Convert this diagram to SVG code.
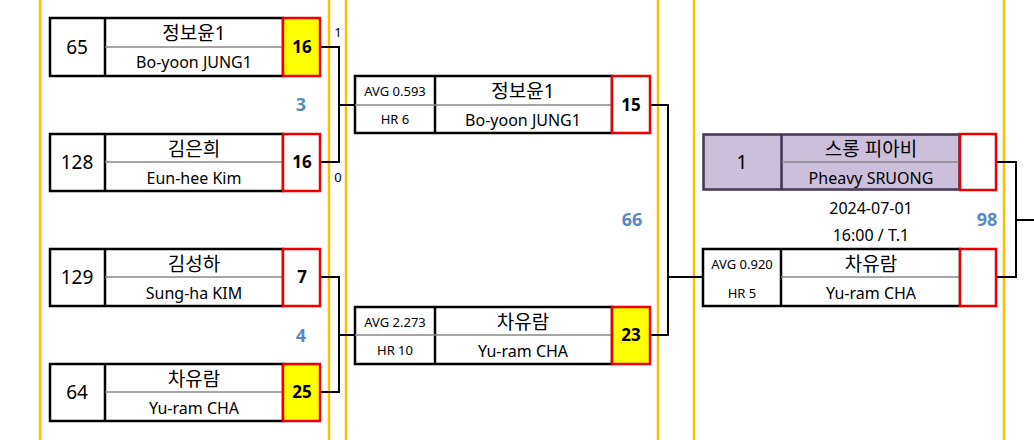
<svg xmlns="http://www.w3.org/2000/svg" width="1034" height="440" viewBox="0 0 1034 440">
<style>
text{font-family:"Noto Sans","Noto Sans CJK KR",sans-serif;fill:#000;text-anchor:middle}
.b{fill:#fff;stroke:#000;stroke-width:2.5}
.p{fill:#cbbfda;stroke:#3f3151;stroke-width:1.5}
.s{stroke:#e00;stroke-width:2.5;fill:#fff}
.y{fill:#ff0}
.m{stroke:#888;stroke-width:1.5}
.c{stroke:#000;stroke-width:2;fill:none}
.g{stroke:#ffc000;stroke-width:2.5}
.k{font-size:19px}.e{font-size:16px}.n{font-size:19px}.sc{font-size:17px;font-weight:bold}
.sm{font-size:13px}.bl{fill:#5a87c5;font-weight:bold;font-size:18px}
</style>
<g id="guides">
<line class="g" x1="40" y1="0" x2="40" y2="440"/><line class="g" x1="329" y1="0" x2="329" y2="440"/>
<line class="g" x1="346" y1="0" x2="346" y2="440"/><line class="g" x1="658" y1="0" x2="658" y2="440"/>
<line class="g" x1="694" y1="0" x2="694" y2="440"/><line class="g" x1="1004" y1="0" x2="1004" y2="440"/>
</g>
<g id="connectors">
<path class="c" d="M320 47H339V162H320M339 105H355"/>
<path class="c" d="M320 277H339V392H320M339 335H355"/>
<path class="c" d="M650 105H668V335H650M668 277H703"/>
<path class="c" d="M996 162H1016V277H996M1016 220H1034"/>
</g>
<g id="r1a"><rect class="b" x="50" y="18" width="233" height="58"/><line class="b" x1="105" y1="18" x2="105" y2="76"/><line class="m" x1="105" y1="47" x2="283" y2="47"/>
<rect class="s y" x="283" y="18" width="37" height="58"/>
<text class="n" x="77" y="54">65</text><text class="k" x="194" y="40">정보윤1</text><text class="e" x="194" y="68">Bo-yoon JUNG1</text><text class="sc" x="302" y="53">16</text></g>
<g id="r1b"><rect class="b" x="50" y="134" width="233" height="57"/><line class="b" x1="105" y1="134" x2="105" y2="191"/><line class="m" x1="105" y1="162" x2="283" y2="162"/>
<rect class="s" x="283" y="134" width="37" height="57"/>
<text class="n" x="77" y="169">128</text><text class="k" x="194" y="156">김은희</text><text class="e" x="194" y="184">Eun-hee Kim</text><text class="sc" x="302" y="168">16</text></g>
<g id="r1c"><rect class="b" x="50" y="249" width="233" height="57"/><line class="b" x1="105" y1="249" x2="105" y2="306"/><line class="m" x1="105" y1="277" x2="283" y2="277"/>
<rect class="s" x="283" y="249" width="37" height="57"/>
<text class="n" x="77" y="284">129</text><text class="k" x="194" y="271">김성하</text><text class="e" x="194" y="299">Sung-ha KIM</text><text class="sc" x="302" y="283">7</text></g>
<g id="r1d"><rect class="b" x="50" y="364" width="233" height="57"/><line class="b" x1="105" y1="364" x2="105" y2="421"/><line class="m" x1="105" y1="392" x2="283" y2="392"/>
<rect class="s y" x="283" y="364" width="37" height="57"/>
<text class="n" x="77" y="399">64</text><text class="k" x="194" y="386">차유람</text><text class="e" x="194" y="414">Yu-ram CHA</text><text class="sc" x="302" y="398">25</text></g>
<g id="r2a"><rect class="b" x="355" y="76" width="257" height="57"/><line class="b" x1="435" y1="76" x2="435" y2="133"/><line class="m" x1="355" y1="105" x2="612" y2="105"/>
<rect class="s" x="612" y="76" width="38" height="57"/>
<text class="sm" x="395" y="96">AVG 0.593</text><text class="sm" x="395" y="124">HR 6</text><text class="k" x="523" y="98">정보윤1</text><text class="e" x="523" y="126">Bo-yoon JUNG1</text><text class="sc" x="631" y="111">15</text></g>
<g id="r2b"><rect class="b" x="355" y="307" width="257" height="57"/><line class="b" x1="435" y1="307" x2="435" y2="364"/><line class="m" x1="355" y1="335" x2="612" y2="335"/>
<rect class="s y" x="612" y="307" width="38" height="57"/>
<text class="sm" x="395" y="327">AVG 2.273</text><text class="sm" x="395" y="355">HR 10</text><text class="k" x="523" y="329">차유람</text><text class="e" x="523" y="357">Yu-ram CHA</text><text class="sc" x="631" y="341">23</text></g>
<g id="r3a"><rect class="p" x="703" y="134" width="257" height="56"/><rect class="p" x="704" y="135" width="77" height="54"/><rect class="p" x="782" y="135" width="177" height="54"/><line class="m" x1="782" y1="162" x2="959" y2="162"/>
<rect class="s" x="960" y="134" width="36" height="56" fill="none"/>
<text class="n" x="742" y="169">1</text><text class="k" x="871" y="156">스롱 피아비</text><text class="e" x="871" y="184">Pheavy SRUONG</text></g>
<g id="date"><text class="e" x="871" y="214">2024-07-01</text><text class="e" x="871" y="241">16:00 / T.1</text></g>
<g id="r3b"><rect class="b" x="703" y="249" width="257" height="57"/><line class="b" x1="781" y1="249" x2="781" y2="306"/><line class="m" x1="781" y1="277" x2="960" y2="277"/>
<rect class="s" x="960" y="249" width="36" height="57"/>
<text class="sm" x="742" y="269">AVG 0.920</text><text class="sm" x="742" y="298">HR 5</text><text class="k" x="871" y="271">차유람</text><text class="e" x="871" y="299">Yu-ram CHA</text></g>
<g id="labels"><text class="sm" x="338" y="37">1</text><text class="sm" x="338" y="182">0</text>
<text class="bl" x="301" y="111">3</text><text class="bl" x="301" y="342">4</text><text class="bl" x="632" y="226">66</text><text class="bl" x="987" y="226">98</text></g>
</svg>
